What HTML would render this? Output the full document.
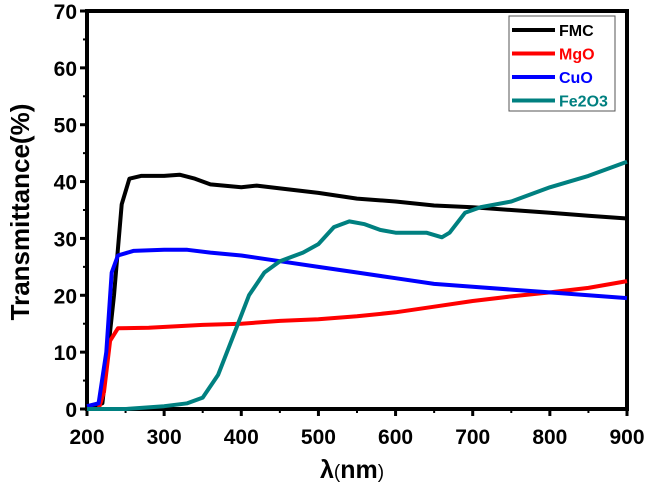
<!DOCTYPE html>
<html><head><meta charset="utf-8"><style>
body{margin:0;background:#fff}
svg text{font-family:"Liberation Sans",Arial,sans-serif;font-weight:bold}
</style></head><body>
<svg id="chart" width="646" height="489">
<g id="axes"></g><g id="series"></g><g id="legend"></g>
</svg>
<script>
const xTicks=[200,300,400,500,600,700,800,900];
const yTicks=[0,10,20,30,40,50,60,70];
const seriesNames=["FMC","MgO","CuO","Fe2O3"];
const seriesColors=["#000000","#ff0000","#0000ff","#008080"];
const fmcX=[200,220,235,245,255,270,300,320,340,360,400,420,450,500,550,600,650,700,750,800,850,900];
const fmcY=[0,1,20,36,40.5,41,41,41.2,40.5,39.5,39,39.3,38.8,38,37,36.5,35.8,35.5,35,34.5,34,33.5];
const mgoX=[200,215,222,230,240,280,350,400,450,500,550,600,650,700,750,800,850,900];
const mgoY=[0,0,3,12,14.2,14.3,14.8,15,15.5,15.8,16.3,17,18,19,19.8,20.5,21.3,22.5];
const cuoX=[200,215,225,232,240,260,300,330,360,400,450,500,550,600,650,700,750,800,850,900];
const cuoY=[0.5,1,10,24,27,27.8,28,28,27.5,27,26,25,24,23,22,21.5,21,20.5,20,19.5];
const feX=[200,250,300,330,350,370,390,410,430,450,480,500,520,540,560,580,600,640,660,670,690,710,750,800,850,900];
const feY=[0,0,0.5,1,2,6,13,20,24,26,27.5,29,32,33,32.5,31.5,31,31,30.2,31,34.5,35.5,36.5,39,41,43.5];
const NS="http://www.w3.org/2000/svg";
const X0=87,X1=627,Y0=409,Y1=11;
const sx=v=>X0+(v-200)/700*(X1-X0);
const sy=v=>Y0-v/70*(Y0-Y1);
function mk(t,a,p){const e=document.createElementNS(NS,t);for(const k in a)e.setAttribute(k,a[k]);p.appendChild(e);return e;}
const ax=document.getElementById('axes');
const frame=mk('rect',{x:X0,y:Y1,width:X1-X0,height:Y0-Y1,fill:'none',stroke:'#000','stroke-width':4},ax);


xTicks.forEach(v=>{
 mk('line',{x1:sx(v),x2:sx(v),y1:Y0,y2:Y0+7,stroke:'#000','stroke-width':3},ax);
 if(v<900)mk('line',{x1:sx(v+50),x2:sx(v+50),y1:Y0,y2:Y0+4,stroke:'#000','stroke-width':2},ax);
 const t=mk('text',{x:sx(v),y:444,'text-anchor':'middle','font-size':21},ax);t.textContent=v;
 
 
});
yTicks.forEach(v=>{
 mk('line',{x1:X0-7,x2:X0,y1:sy(v),y2:sy(v),stroke:'#000','stroke-width':3},ax);
 if(v<70)mk('line',{x1:X0-4,x2:X0,y1:sy(v+5),y2:sy(v+5),stroke:'#000','stroke-width':2},ax);
 const t=mk('text',{x:77,y:sy(v)+8,'text-anchor':'end','font-size':21},ax);t.textContent=v;
 
 
});
const xt=mk('text',{x:352,y:478,'text-anchor':'middle','font-size':25},ax);
xt.innerHTML='λ<tspan font-size="19" font-weight="normal">(</tspan>nm<tspan font-size="19" font-weight="normal">)</tspan>';


const yt=mk('text',{x:0,y:0,'text-anchor':'middle','font-size':26,transform:'translate(29,212) rotate(-90)'},ax);
yt.textContent='Transmittance(%)';


const sg=document.getElementById('series');
const data=[[fmcX,fmcY],[mgoX,mgoY],[cuoX,cuoY],[feX,feY]];
data.forEach((d,i)=>{
 const pts=d[0].map((x,j)=>sx(x).toFixed(1)+','+sy(d[1][j]).toFixed(1)).join(' ');
 const p=mk('polyline',{points:pts,fill:'none',stroke:seriesColors[i],'stroke-width':4,'stroke-linejoin':'round'},sg);
 
 
});
const lg=document.getElementById('legend');
const lb=mk('rect',{x:509,y:16,width:106,height:95,fill:'#fff',stroke:'#555','stroke-width':1},lg);


seriesNames.forEach((n,i)=>{
 const y=30+i*23.5;
 mk('line',{x1:512,x2:555,y1:y,y2:y,stroke:seriesColors[i],'stroke-width':4},lg);
 const t=mk('text',{x:559,y:y+6,'font-size':16,fill:seriesColors[i]},lg);t.textContent=n;
 
 
});
</script>
</body></html>
